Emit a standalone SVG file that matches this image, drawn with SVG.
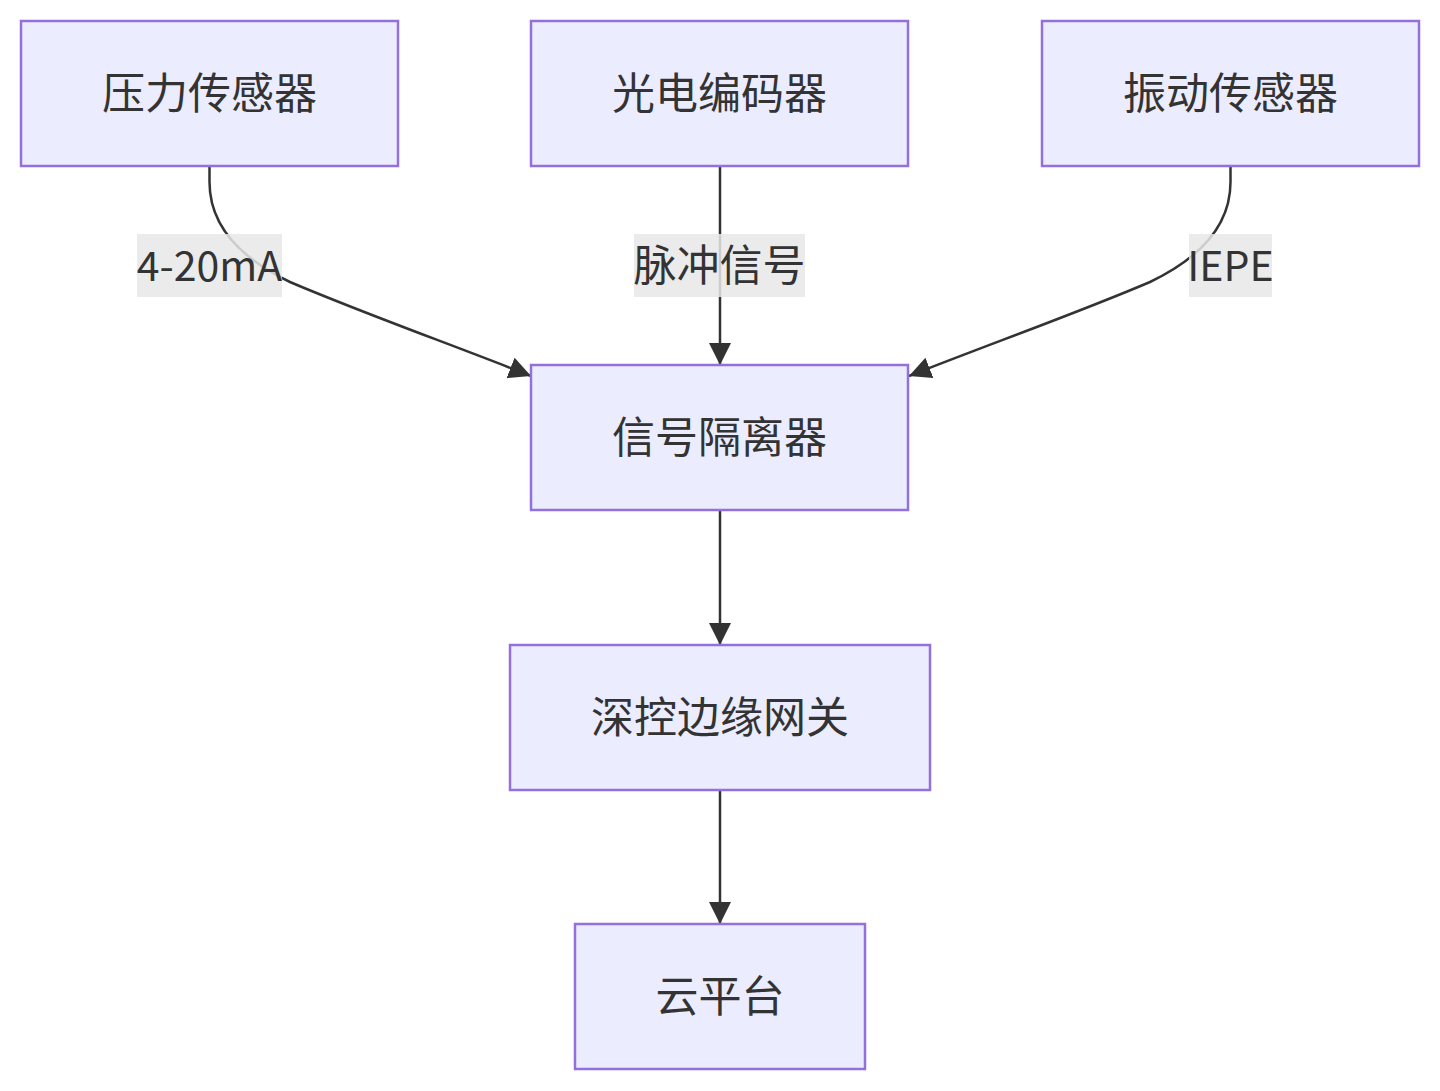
<svg xmlns="http://www.w3.org/2000/svg" width="1440" height="1091" viewBox="0 0 1440 1091">
<defs>
<marker id="arr" markerUnits="userSpaceOnUse" markerWidth="24" markerHeight="24" refX="22" refY="11" orient="auto">
<path d="M0,0 L22,11 L0,22 z" fill="#333"/>
</marker>
<style>
.node rect{fill:#ECECFF;stroke:#9370DB;stroke-width:2.5}
text{font-family:"Noto Sans CJK SC","Noto Sans",sans-serif;font-size:43px;fill:#333;text-anchor:middle;dominant-baseline:central}
.lat{font-size:41px}
.edge{fill:none;stroke:#333;stroke-width:2.5}
.lbl rect{fill:#e8e8e8;fill-opacity:0.85}
</style>
</defs>
<rect width="1440" height="1091" fill="#fff"/>
<g id="connectors">
<path class="edge" d="M209.5,166 V182 C209.5,226 240,258 290,282 C360,312 450,344 531,376" marker-end="url(#arr)"/>
<path class="edge" d="M720,166 V365" marker-end="url(#arr)"/>
<path class="edge" d="M1230.5,166 V182 C1230.5,226 1200,258 1150,282 C1080,312 990,344 909,376" marker-end="url(#arr)"/>
<path class="edge" d="M720,510 V645" marker-end="url(#arr)"/>
<path class="edge" d="M720,790 V924" marker-end="url(#arr)"/>
<g class="lbl">
<rect x="137" y="234" width="145" height="63"/>
<text class="lat" x="209.5" y="263">4-20mA</text>
<rect x="634" y="234" width="171" height="63"/>
<text x="719.5" y="262">脉冲信号</text>
<rect x="1189" y="234" width="83" height="63"/>
<text class="lat" x="1230.5" y="263">IEPE</text>
</g>
</g>
<g id="n1" class="node"><rect x="21" y="21" width="377" height="145"/><text x="209.5" y="90">压力传感器</text></g>
<g id="n2" class="node"><rect x="531" y="21" width="377" height="145"/><text x="719.5" y="90">光电编码器</text></g>
<g id="n3" class="node"><rect x="1042" y="21" width="377" height="145"/><text x="1230.5" y="90">振动传感器</text></g>
<g id="n4" class="node"><rect x="531" y="365" width="377" height="145"/><text x="719.5" y="434">信号隔离器</text></g>
<g id="n5" class="node"><rect x="510" y="645" width="420" height="145"/><text x="720" y="714">深控边缘网关</text></g>
<g id="n6" class="node"><rect x="575" y="924" width="290" height="145"/><text x="720" y="993">云平台</text></g>
</svg>
